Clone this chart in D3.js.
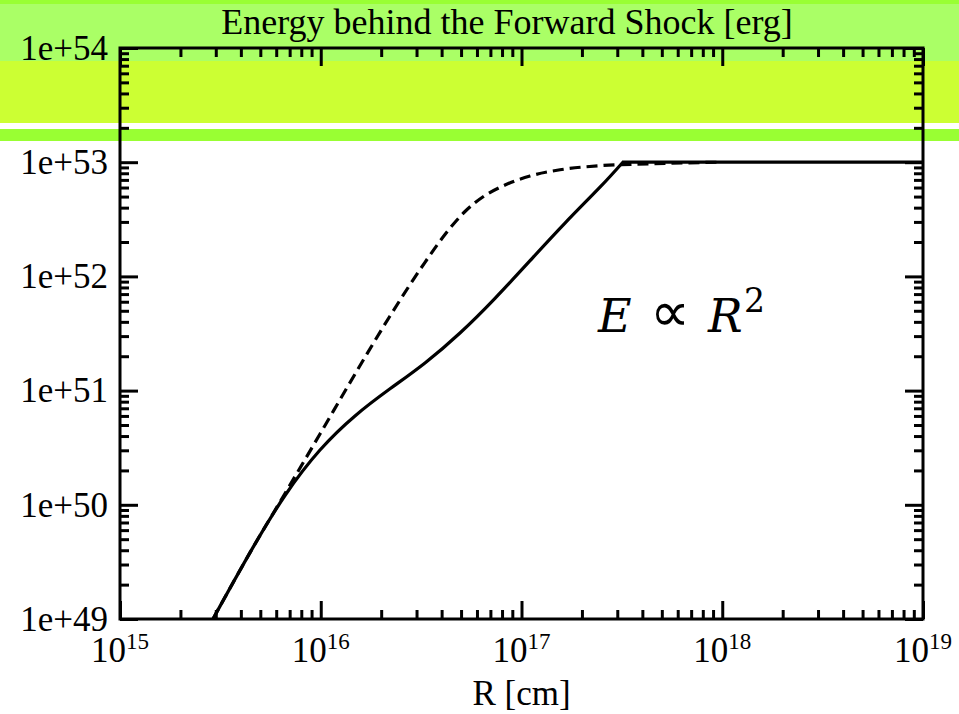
<!DOCTYPE html>
<html>
<head>
<meta charset="utf-8">
<script src="https://cdn.jsdelivr.net/npm/d3@7"></script>
<style>
  html, body { margin: 0; padding: 0; background: #fff; }
  svg { display: block; font-family: "Liberation Serif", "Times New Roman", serif; }
</style>
</head>
<body>
<svg id="chart" width="959" height="714"></svg>
<script>
// radius [cm] and energy [erg] along the two curves
const solidR = [2.905e15, 4.442e15, 6.636e15, 9.915e15, 1.481e16, 2.213e16, 3.306e16, 4.938e16,
  7.379e16, 1.103e17, 1.647e17, 2.46e17, 3.2e17];
const solidE = [1e49, 3.81e49, 1.206e50, 3.019e50, 6.003e50, 1.037e51, 1.748e51, 3.195e51,
  6.43e51, 1.373e52, 2.929e52, 6.041e52, 1e53];
const dashR = [2.905e15, 4.442e15, 6.636e15, 9.915e15, 1.481e16, 2.213e16, 3.306e16, 4.157e16,
  5.231e16, 6.58e16, 8.277e16, 1.103e17, 1.555e17, 2.46e17, 4.367e17, 9.745e17];
const dashE = [1e49, 3.81e49, 1.256e50, 4.169e50, 1.395e51, 4.5e51, 1.329e52, 2.327e52,
  3.701e52, 5.11e52, 6.316e52, 7.571e52, 8.58e52, 9.32e52, 9.683e52, 1e53];

const xTicks = [1e15, 1e16, 1e17, 1e18, 1e19];
const yTicks = [1e49, 1e50, 1e51, 1e52, 1e53, 1e54];

const titleText = "Energy behind the Forward Shock [erg]";
const xLabel = "R [cm]";

// coloured strips across the top of the page
const bands = [
  { y0: 0, y1: 4, fill: "#99ff33" },
  { y0: 4, y1: 61, fill: "#aaff66" },
  { y0: 61, y1: 123, fill: "#ccff33" },
  { y0: 129, y1: 141, fill: "#99ff33" }
];

const W = 959, H = 714;
const margin = { top: 48, right: 36, bottom: 95, left: 120 };
const width = W - margin.left - margin.right;
const height = H - margin.top - margin.bottom;

const svg = d3.select("#chart");

svg.selectAll("rect.band")
  .data(bands)
  .join("rect")
  .attr("class", "band")
  .attr("x", 0)
  .attr("width", W)
  .attr("y", d => d.y0)
  .attr("height", d => d.y1 - d.y0)
  .attr("fill", d => d.fill);

svg.append("text")
  .attr("x", 507)
  .attr("y", 34)
  .attr("text-anchor", "middle")
  .attr("font-size", 36)
  .text(titleText);

const g = svg.append("g").attr("transform", `translate(${margin.left},${margin.top})`);

const x = d3.scaleLog().domain([1e15, 1e19]).range([0, width]);
const y = d3.scaleLog().domain([1e49, 1e54]).range([height, 0]);

// minor ticks 2..9 in every decade
function minors(lo, hi) {
  const out = [];
  for (let e = lo; e < hi; e++) {
    for (let m = 2; m <= 9; m++) out.push(m * Math.pow(10, e));
  }
  return out;
}
const xMinor = minors(15, 19);
const yMinor = minors(49, 54);

function styleAxis(sel) {
  sel.select(".domain").remove();
  sel.selectAll(".tick line").attr("stroke", "#000").attr("stroke-width", 3);
}

// inward ticks on all four sides
const MAJ = 18, MIN = 9;
g.append("g").attr("transform", `translate(0,${height})`)
  .call(d3.axisBottom(x).tickValues(xMinor).tickSize(-MIN).tickFormat(""))
  .call(styleAxis);
g.append("g")
  .call(d3.axisTop(x).tickValues(xMinor).tickSize(-MIN).tickFormat(""))
  .call(styleAxis);
g.append("g").attr("transform", `translate(0,${height})`)
  .call(d3.axisBottom(x).tickValues(xTicks).tickSize(-MAJ).tickFormat(""))
  .call(styleAxis);
g.append("g")
  .call(d3.axisTop(x).tickValues(xTicks).tickSize(-MAJ).tickFormat(""))
  .call(styleAxis);

g.append("g")
  .call(d3.axisLeft(y).tickValues(yMinor).tickSize(-MIN).tickFormat(""))
  .call(styleAxis);
g.append("g").attr("transform", `translate(${width},0)`)
  .call(d3.axisRight(y).tickValues(yMinor).tickSize(-MIN).tickFormat(""))
  .call(styleAxis);
g.append("g").attr("transform", `translate(${width},0)`)
  .call(d3.axisRight(y).tickValues(yTicks).tickSize(-MAJ).tickFormat(""))
  .call(styleAxis);

const yAxis = g.append("g")
  .call(d3.axisLeft(y).tickValues(yTicks).tickSize(-MAJ).tickPadding(12)
    .tickFormat(d => "1e+" + Math.round(Math.log10(d))))
  .call(styleAxis);
yAxis.selectAll(".tick text")
  .attr("font-family", "Liberation Serif, Times New Roman, serif")
  .attr("font-size", 35)
  .attr("fill", "#000");

// x labels as 10 with a raised exponent
const xLab = g.append("g").attr("transform", `translate(0,${height})`)
  .selectAll("text")
  .data(xTicks)
  .join("text")
  .attr("x", d => x(d))
  .attr("y", 43)
  .attr("text-anchor", "middle")
  .attr("font-size", 35);
xLab.append("tspan").text("10");
xLab.append("tspan")
  .attr("dy", -13)
  .attr("font-size", 23)
  .text(d => Math.round(Math.log10(d)));

g.append("text")
  .attr("x", width / 2)
  .attr("y", height + 86)
  .attr("text-anchor", "middle")
  .attr("font-size", 35)
  .text(xLabel);

// curves
const dashLine = d3.line()
  .x(d => x(d[0]))
  .y(d => y(d[1]))
  .curve(d3.curveMonotoneX);
const solidLine = d3.line()
  .x(d => x(d[0]))
  .y(d => y(d[1]))
  .curve(d3.curveNatural);

const dashPts = dashR.map((r, i) => [r, dashE[i]]);
const solidPts = solidR.map((r, i) => [r, solidE[i]]);

g.append("path")
  .attr("d", dashLine(dashPts))
  .attr("fill", "none")
  .attr("stroke", "#000")
  .attr("stroke-width", 3.2)
  .attr("stroke-dasharray", "11,6");

// rising part is smooth, then a flat plateau to the edge
g.append("path")
  .attr("d", solidLine(solidPts) + `L${x(1e19)},${y(solidE[solidE.length - 1])}`)
  .attr("fill", "none")
  .attr("stroke", "#000")
  .attr("stroke-width", 3.2);

// frame
g.append("rect")
  .attr("width", width)
  .attr("height", height)
  .attr("fill", "none")
  .attr("stroke", "#000")
  .attr("stroke-width", 3);

// scaling note
const note = svg.append("g");
note.append("text")
  .attr("x", 598).attr("y", 332)
  .attr("font-family", "DejaVu Serif, serif")
  .attr("font-style", "italic")
  .attr("font-size", 46)
  .text("E");
note.append("text")
  .attr("x", 650).attr("y", 331)
  .attr("font-family", "DejaVu Sans, sans-serif")
  .attr("font-size", 56)
  .text("\u221D");
note.append("text")
  .attr("x", 708).attr("y", 332)
  .attr("font-family", "DejaVu Serif, serif")
  .attr("font-style", "italic")
  .attr("font-size", 46)
  .text("R");
note.append("text")
  .attr("x", 744).attr("y", 312)
  .attr("font-family", "DejaVu Serif, serif")
  .attr("font-size", 33)
  .text("2");
</script>
</body>
</html>
